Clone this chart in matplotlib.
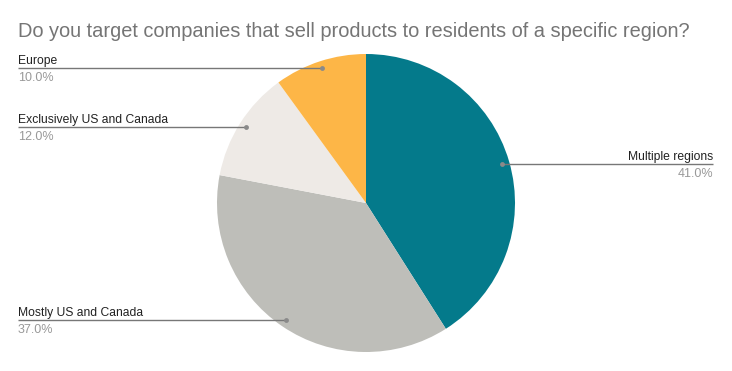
import matplotlib
matplotlib.use("Agg")
import matplotlib.pyplot as plt
import numpy as np

title = "Do you target companies that sell products to residents of a specific region?"
categories = ["Multiple regions", "Mostly US and Canada", "Exclusively US and Canada", "Europe"]
values = [41.0, 37.0, 12.0, 10.0]
colors = ["#047A8B", "#BEBEB9", "#EEEAE6", "#FDB647"]

W, H = 732, 371
fig = plt.figure(figsize=(W / 100, H / 100), dpi=100)
ax = fig.add_axes([0, 0, 1, 1])

cx, cy, r = 366, H - 203, 149
wedges, _ = ax.pie(values, colors=colors, startangle=90, counterclock=False,
                   radius=r, center=(cx, cy), frame=True,
                   wedgeprops=dict(linewidth=0))
ax.set_xlim(0, W)
ax.set_ylim(0, H)
ax.set_aspect("equal")
ax.axis("off")

font = "Liberation Sans"
total = sum(values)
for w, cat, v in zip(wedges, categories, values):
    mid = np.deg2rad((w.theta1 + w.theta2) / 2)
    px = cx + 0.95 * r * np.cos(mid)
    py = cy + 0.95 * r * np.sin(mid)
    if np.cos(mid) < 0:
        x_end, ha = 18, "left"
    else:
        x_end, ha = 713, "right"
    ax.plot([px, x_end], [py, py], color="#777777", lw=1.0, solid_capstyle="butt")
    ax.plot([px], [py], "o", color="#8a8a8a", ms=3.5, mec="none")
    ax.text(x_end, py + 4, cat, ha=ha, va="baseline", fontsize=8.7,
            family=font, color="#222222")
    ax.text(x_end, py - 4, f"{v / total * 100:.1f}%", ha=ha, va="top", fontsize=9,
            family=font, color="#999999")

ax.text(18, H - 37, title, ha="left", va="baseline", fontsize=14.4,
        family=font, color="#757575")

fig.savefig("out.png", dpi=100)
